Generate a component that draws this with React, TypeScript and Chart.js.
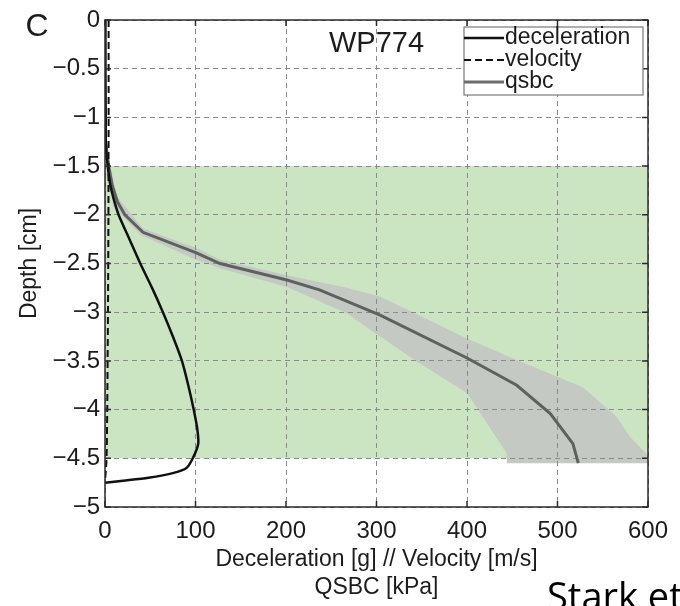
import { useEffect, useRef } from 'react';
import { Chart, registerables } from 'chart.js';

Chart.register(...registerables);

// ---- data ----
const xTickValues = [0, 100, 200, 300, 400, 500, 600];
const yTickValues = [0, -0.5, -1, -1.5, -2, -2.5, -3, -3.5, -4, -4.5, -5];

const decelDepth = [0, -0.5, -1.0, -1.3, -1.5, -1.7, -1.85, -2.0, -2.25, -2.5, -2.75, -3.0, -3.25, -3.5, -3.75, -4.0, -4.2, -4.35, -4.5, -4.6, -4.65, -4.7, -4.73, -4.75];
const decelValue = [0.5, 0.5, 0.8, 1, 3, 6, 10, 15, 27, 39, 52, 64, 75, 85, 92, 98, 102, 103, 97, 90, 76, 48, 20, 0];

const velDepth = [0, -1, -2, -3, -4, -4.4, -4.55, -4.65, -4.72];
const velValue = [4, 4, 3.8, 3.3, 2.5, 2, 1.5, 0.8, 0];

const qsbcDepth = [-1.2, -1.5, -1.7, -1.87, -2.0, -2.18, -2.39, -2.5, -2.67, -2.77, -3.03, -3.47, -3.75, -4.04, -4.35, -4.55];
const qsbcValue = [0, 4, 8, 14, 22, 42, 101, 127, 201, 237, 304, 400, 455, 492, 517, 523];

// qsbc spread (upper edge going down, then lower edge going up)
const bandUpperDepth = [-1.2, -1.5, -1.81, -2.14, -2.34, -2.46, -2.62, -2.75, -2.84, -3.27, -3.49, -3.77, -4.07, -4.28, -4.47, -4.55];
const bandUpperValue = [0, 6, 13, 42, 101, 127, 201, 267, 304, 400, 455, 528, 565, 580, 600, 600];
const bandLowerDepth = [-4.55, -4.45, -4.14, -3.83, -3.51, -3.25, -3.01, -2.74, -2.55, -2.45, -2.21, -1.92, -1.5, -1.2];
const bandLowerValue = [444, 444, 422, 400, 345, 304, 267, 201, 127, 98, 40, 9, 2, 0];

// saturated-zone band
const zoneTop = -1.5;
const zoneBottom = -4.5;
const zoneXMin = 0;
const zoneXMax = 600;

const legendLabels = ['deceleration', 'velocity', 'qsbc'];
const chartTitle = 'WP774';
const panelLetter = 'C';
const xTitle = ['Deceleration [g] // Velocity [m/s]', 'QSBC [kPa]'];
const yTitle = 'Depth [cm]';
const footerText = 'Stark et al.';

const zip = (xs: number[], ys: number[]) => xs.map((x, i) => ({ x, y: ys[i] }));

const FONT = '"Liberation Sans", Arial, Helvetica, sans-serif';
const TEXT = '#1c1c1c';

const fmt = (v: number) => (v < 0 ? '\u2212' + String(Math.abs(v)) : String(v));

const decorPlugin = {
  id: 'decor',
  afterDraw(chart: any) {
    const ctx = chart.ctx as CanvasRenderingContext2D;
    const ca = chart.chartArea;
    const xs = chart.scales.x;
    const ys = chart.scales.y;
    ctx.save();
    // frame
    ctx.strokeStyle = '#2b2b2b';
    ctx.lineWidth = 1.5;
    ctx.setLineDash([]);
    ctx.strokeRect(ca.left, ca.top, ca.right - ca.left, ca.bottom - ca.top);
    // inward ticks
    const tl = 6;
    ctx.lineWidth = 1.5;
    ctx.beginPath();
    xTickValues.forEach((v) => {
      const px = xs.getPixelForValue(v);
      ctx.moveTo(px, ca.bottom);
      ctx.lineTo(px, ca.bottom - tl);
      ctx.moveTo(px, ca.top);
      ctx.lineTo(px, ca.top + tl);
    });
    yTickValues.forEach((v) => {
      const py = ys.getPixelForValue(v);
      ctx.moveTo(ca.left, py);
      ctx.lineTo(ca.left + tl, py);
      ctx.moveTo(ca.right, py);
      ctx.lineTo(ca.right - tl, py);
    });
    ctx.stroke();

    // title inside plot
    ctx.fillStyle = TEXT;
    ctx.font = `29px ${FONT}`;
    ctx.textAlign = 'center';
    ctx.textBaseline = 'middle';
    ctx.fillText(chartTitle, (ca.left + ca.right) / 2, ca.top + 24);

    // panel letter
    ctx.font = `32px ${FONT}`;
    ctx.fillText(panelLetter, 37, 27);

    // legend
    const bx = ca.right - 184;
    const by = ca.top + 7;
    const bw = 179;
    const bh = 68;
    ctx.fillStyle = '#ffffff';
    ctx.fillRect(bx, by, bw, bh);
    ctx.strokeStyle = '#7a7a7a';
    ctx.lineWidth = 1.2;
    ctx.strokeRect(bx, by, bw, bh);
    const styles = [
      { color: '#111111', dash: [] as number[], width: 2.5 },
      { color: '#111111', dash: [7, 4], width: 2 },
      { color: '#6a6e6b', dash: [] as number[], width: 3 },
    ];
    legendLabels.forEach((lab, i) => {
      const yy = by + 11 + i * 22;
      const st = styles[i];
      ctx.strokeStyle = st.color;
      ctx.lineWidth = st.width;
      ctx.setLineDash(st.dash);
      ctx.beginPath();
      ctx.moveTo(bx, yy);
      ctx.lineTo(bx + 40, yy);
      ctx.stroke();
      ctx.setLineDash([]);
      ctx.fillStyle = TEXT;
      ctx.font = `23px ${FONT}`;
      ctx.textAlign = 'left';
      ctx.textBaseline = 'middle';
      ctx.fillText(lab, bx + 41, yy);
    });

    // footer text from slide
    ctx.fillStyle = '#000000';
    ctx.font = '38px "Open Sans", sans-serif';
    ctx.textAlign = 'left';
    ctx.textBaseline = 'alphabetic';
    ctx.fillText(footerText, 547, 610);
    ctx.restore();
  },
};

export default function App() {
  const ref = useRef<HTMLCanvasElement | null>(null);

  useEffect(() => {
    if (!ref.current) return;
    Chart.defaults.font.family = FONT;
    Chart.defaults.color = TEXT;

    const chart = new Chart(ref.current, {
      type: 'scatter',
      data: {
        datasets: [
          {
            label: 'deceleration',
            data: zip(decelValue, decelDepth),
            showLine: true,
            borderColor: '#111111',
            borderWidth: 2.5,
            pointRadius: 0,
            tension: 0.25,
            fill: false,
          },
          {
            label: 'velocity',
            data: zip(velValue, velDepth),
            showLine: true,
            borderColor: '#111111',
            borderWidth: 2,
            borderDash: [7, 4],
            pointRadius: 0,
            fill: false,
          },
          {
            label: 'qsbc',
            data: zip(qsbcValue, qsbcDepth),
            showLine: true,
            borderColor: '#5e625f',
            borderWidth: 3,
            pointRadius: 0,
            fill: false,
          },
          {
            label: 'qsbc spread',
            data: [...zip(bandUpperValue, bandUpperDepth), ...zip(bandLowerValue, bandLowerDepth)],
            showLine: true,
            borderColor: 'rgba(0,0,0,0)',
            borderWidth: 0,
            backgroundColor: '#c4c9c3',
            pointRadius: 0,
            fill: 'shape',
          },
          {
            label: 'zone',
            data: [
              { x: zoneXMin, y: zoneTop },
              { x: zoneXMax, y: zoneTop },
              { x: zoneXMax, y: zoneBottom },
              { x: zoneXMin, y: zoneBottom },
            ],
            showLine: true,
            borderColor: 'rgba(0,0,0,0)',
            borderWidth: 0,
            backgroundColor: '#cbe5c3',
            pointRadius: 0,
            fill: 'shape',
          },
        ],
      },
      options: {
        animation: false,
        responsive: false,
        devicePixelRatio: 1,
        layout: { padding: { top: 20, right: 32, left: 0, bottom: 0 } },
        plugins: {
          legend: { display: false },
          tooltip: { enabled: false },
          filler: { drawTime: 'beforeDraw' },
        } as any,
        scales: {
          x: {
            type: 'linear',
            min: 0,
            max: 600,
            afterBuildTicks: (s: any) => {
              s.ticks = xTickValues.map((v) => ({ value: v }));
            },
            afterFit: (s: any) => {
              s.height = 99;
            },
            grid: { color: '#8a8a8a', lineWidth: 1, drawTicks: false },
            border: { display: false, dash: [5, 4] },
            ticks: {
              padding: 10,
              font: { size: 24 },
              color: TEXT,
              maxRotation: 0,
              callback: (v: any) => fmt(Number(v)),
            },
            title: {
              display: true,
              text: xTitle,
              font: { size: 23 },
              color: TEXT,
              padding: { top: 0, bottom: 4.6 },
            },
          },
          y: {
            type: 'linear',
            min: -5,
            max: 0,
            afterBuildTicks: (s: any) => {
              s.ticks = yTickValues.map((v) => ({ value: v }));
            },
            afterFit: (s: any) => {
              s.width = 105;
            },
            grid: { color: '#8a8a8a', lineWidth: 1, drawTicks: false },
            border: { display: false, dash: [5, 4] },
            ticks: {
              padding: 5,
              font: { size: 24 },
              color: TEXT,
              callback: (v: any) => fmt(Number(v)),
            },
            title: {
              display: true,
              text: yTitle,
              font: { size: 23 },
              color: TEXT,
              padding: { top: 16, bottom: 0 },
            },
          },
        },
      },
      plugins: [decorPlugin],
    } as any);

    return () => chart.destroy();
  }, []);

  return (
    <div style={{ position: 'absolute', left: 0, top: 0, width: 680, height: 606, overflow: 'hidden', background: '#ffffff' }}>
      <canvas ref={ref} width={680} height={606} style={{ display: 'block', width: 680, height: 606 }} />
    </div>
  );
}
